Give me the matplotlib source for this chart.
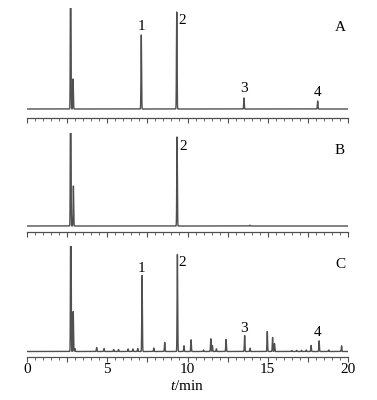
import numpy as np
import matplotlib
matplotlib.use("Agg")
import matplotlib.pyplot as plt
from matplotlib.ticker import MultipleLocator, FuncFormatter

# ---- data: retention times (min) and peak heights (arbitrary units) ----
a_times   = [2.72, 2.87, 7.12, 9.33, 13.52, 18.11]
a_heights = [200, 30, 74, 97, 11, 8]

b_times   = [2.72, 2.89, 9.35, 13.9]
b_heights = [200, 40, 89, 0.8]

c_times   = [2.73, 2.88, 2.98, 4.34, 4.80, 5.40, 5.70, 6.30, 6.60, 6.90,
             7.17, 7.90, 8.58, 9.37, 9.78, 10.22, 11.00, 11.45, 11.55, 11.80,
             12.40, 13.56, 13.90, 14.97, 15.30, 15.42, 16.50, 16.80, 17.10,
             17.40, 17.70, 18.20, 18.80, 19.60]
c_heights = [200, 40, 3, 4, 3, 2, 2, 2.5, 2.5, 3,
             76, 3.5, 9, 97, 5.7, 11.7, 1.5, 12.7, 6, 2.7,
             12, 16, 3.3, 20, 14, 8, 1, 1.2, 1.2,
             1.5, 6, 10.7, 1.5, 5.7]

peak_labels = ["1", "2", "3", "4"]
panel_names = ["A", "B", "C"]
x_ticklabels = ["0", "5", "10", "15", "20"]

t = np.linspace(0, 20, 20001)

def trace(times, heights, sigma=0.018):
    y = np.zeros_like(t)
    for tc, h in zip(times, heights):
        y += h * np.exp(-0.5 * ((t - tc) / sigma) ** 2)
    return y

plt.rcParams['font.family'] = ['Liberation Serif', 'DejaVu Serif']
plt.rcParams['mathtext.fontset'] = 'custom'
plt.rcParams['mathtext.rm'] = 'Liberation Serif'
plt.rcParams['mathtext.it'] = 'Liberation Serif:italic'
W, H = 377, 400
fig = plt.figure(figsize=(W / 100, H / 100), dpi=100)

left = 27 / W
width = 321 / W
# (bottom px, top px, baseline offset px)
panels = [(118, 8, 9), (232, 133, 6), (357, 246, 5.5)]
data = [(a_times, a_heights), (b_times, b_heights), (c_times, c_heights)]
col = '#505050'

axes = []
for i, ((bot, top, off), (tt, hh)) in enumerate(zip(panels, data)):
    ax = fig.add_axes([left, 1 - bot / H, width, (bot - top) / H])
    y = trace(tt, hh)
    ax.plot(t, y, color=col, lw=1.0)
    hpx = bot - top
    ax.set_ylim(-off, hpx - off)
    ax.set_xlim(0, 20)
    for s in ['left', 'right', 'top']:
        ax.spines[s].set_visible(False)
    ax.spines['bottom'].set_color(col)
    ax.spines['bottom'].set_linewidth(0.9)
    ax.set_yticks([])
    ax.xaxis.set_major_locator(MultipleLocator(2.5))
    ax.xaxis.set_minor_locator(MultipleLocator(0.5))
    ax.tick_params(axis='x', which='major', direction='out', length=3.5, width=0.8, color=col)
    ax.tick_params(axis='x', which='minor', direction='out', length=1.8, width=0.6, color=col)
    if i < 2:
        ax.tick_params(axis='x', labelbottom=False)
    else:
        ax.xaxis.set_major_formatter(FuncFormatter(
            lambda v, p: x_ticklabels[int(round(v / 5))] if abs(v / 5 - round(v / 5)) < 1e-6 else ''))
        ax.tick_params(axis='x', labelsize=11, pad=1, labelcolor='black')
        ax.set_xlabel(r'$\it{t}$/min', fontsize=11, labelpad=2)
    axes.append(ax)

def px2x(px):
    return (px - 27) / 321 * 20

def lab(ax, px_x, px_y, panel_idx, s):
    bot, top, off = panels[panel_idx]
    yv = (bot - px_y) - off
    ax.text(px2x(px_x), yv, s, ha='center', va='center', fontsize=11)

# panel A labels
lab(axes[0], 141, 27, 0, peak_labels[0])
lab(axes[0], 182, 21, 0, peak_labels[1])
lab(axes[0], 244, 89, 0, peak_labels[2])
lab(axes[0], 318, 93, 0, peak_labels[3])
lab(axes[0], 340, 28, 0, panel_names[0])
# panel B labels
lab(axes[1], 183, 147, 1, peak_labels[1])
lab(axes[1], 340, 150, 1, panel_names[1])
# panel C labels
lab(axes[2], 141, 269, 2, peak_labels[0])
lab(axes[2], 182, 263, 2, peak_labels[1])
lab(axes[2], 244, 328, 2, peak_labels[2])
lab(axes[2], 318, 333, 2, peak_labels[3])
lab(axes[2], 340, 264, 2, panel_names[2])

fig.savefig('out.png', dpi=100)
